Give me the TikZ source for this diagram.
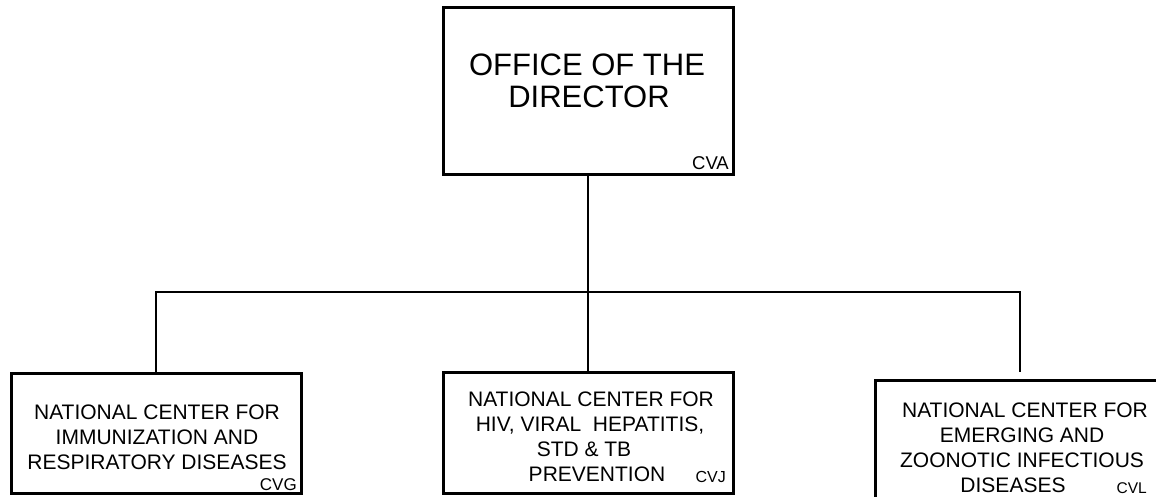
\documentclass[tikz,border=0pt]{standalone}
\usepackage{fontspec}
\setmainfont{Liberation Sans}
\begin{document}
\begin{tikzpicture}[x=1pt,y=-1pt,
  box/.style={draw, line width=3pt, minimum width=290pt, inner sep=0pt, outer sep=0pt},
  conn/.style={line width=2.8pt},
  big/.style={anchor=base, inner sep=0pt, font=\fontsize{31}{32}\selectfont},
  txt/.style={anchor=base, inner sep=0pt, font=\fontsize{21}{25}\selectfont},
  code/.style={anchor=base east, inner sep=0pt}]
\useasboundingbox (0,0) rectangle (1156,497);
\clip (0,0) rectangle (1156,497);
% boxes
\node[box, minimum height=167pt] (top) at (588,91.5) {};
\node[box, minimum height=120pt] (b1) at (156,433) {};
\node[box, minimum height=121pt] (b2) at (588,432.5) {};
\node[box, minimum height=120pt] (b3) at (1020,440) {};
% top texts
\node[big] (t1) at (587,76) {OFFICE OF THE};
\node[big] (t2) at (589,108) {DIRECTOR};
\node[code, font=\fontsize{18.5}{20}\selectfont] (cva) at (729,169.5) {CVA};
% left
\node[txt] (l1) at (157,419) {NATIONAL CENTER FOR};
\node[txt] (l2) at (157,444) {IMMUNIZATION AND};
\node[txt] (l3) at (157,469) {RESPIRATORY DISEASES};
\node[code, font=\fontsize{17}{18}\selectfont] (cvg) at (297,490.5) {CVG};
% middle
\node[txt] (m1) at (591,406) {NATIONAL CENTER FOR};
\node[txt] (m2) at (590,431) {HIV, VIRAL\ \ HEPATITIS,};
\node[txt] (m3) at (584,456) {STD \& TB};
\node[txt] (m4) at (597,481) {PREVENTION};
\node[code, font=\fontsize{16}{18}\selectfont] (cvj) at (726,482) {CVJ};
% right
\node[txt] (r1) at (1025,417) {NATIONAL CENTER FOR};
\node[txt] (r2) at (1022,442) {EMERGING AND};
\node[txt] (r3) at (1022,467) {ZOONOTIC INFECTIOUS};
\node[txt] (r4) at (1013,492) {DISEASES};
\node[code, font=\fontsize{15.5}{17}\selectfont] (cvl) at (1147,493) {CVL};
% connectors
\coordinate (hl) at (156,292);
\coordinate (hm) at (588,292);
\coordinate (hr) at (1020,292);
\draw[conn] (top.south) -- (hm);
\draw[conn, line cap=rect] (hl) -- (hr);
\draw[conn] (hl) -- (b1.north);
\draw[conn] (hm) -- (b2.north);
\draw[conn, shorten >=8pt] (hr) -- (b3.north);
\end{tikzpicture}
\end{document}
